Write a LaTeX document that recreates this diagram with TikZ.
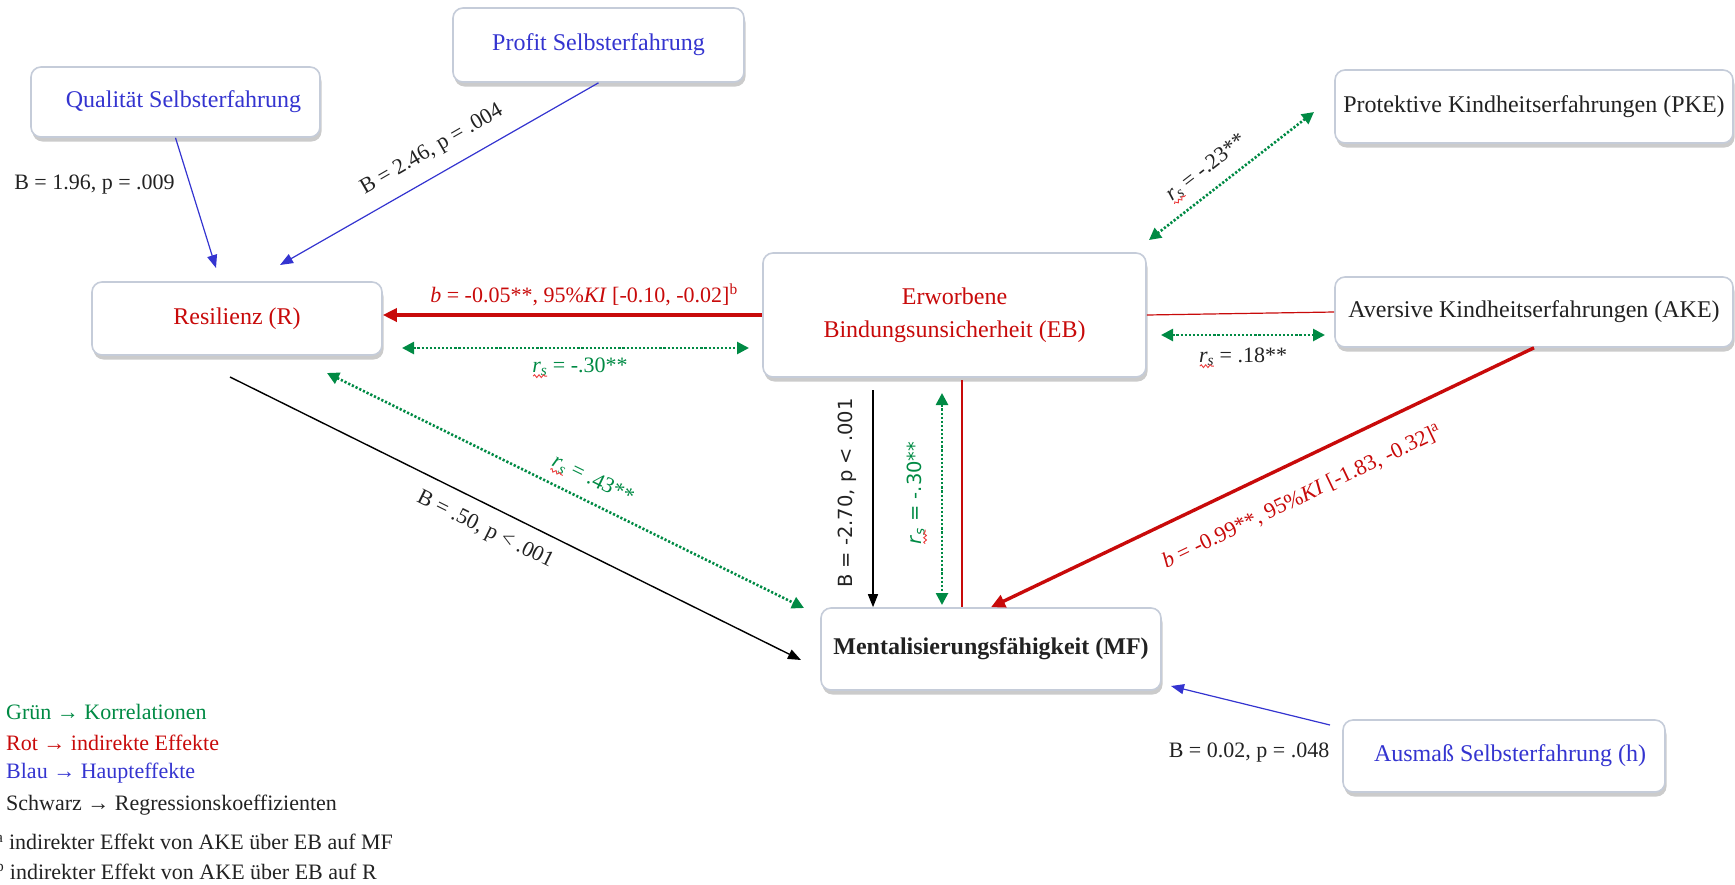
\documentclass[tikz,border=0pt]{standalone}
\usepackage{fontspec}
\setmainfont{Liberation Serif}
\newfontfamily\sansf{DejaVu Sans}
\usetikzlibrary{arrows.meta,shadows,calc,decorations.pathmorphing}
\definecolor{bx}{RGB}{197,204,217}
\definecolor{blu}{RGB}{52,52,208}
\definecolor{rd}{RGB}{200,10,10}
\definecolor{grn}{RGB}{0,138,68}
\definecolor{txt}{RGB}{34,34,34}
\definecolor{sq}{RGB}{235,60,60}
\newcommand\rsym{\textit{r}\textsubscript{\textit{s}}}
\begin{document}
\begin{tikzpicture}[x=1pt,y=-1pt,
  box/.style={draw=bx, line width=1.6pt, rounded corners=10pt, fill=white,
     drop shadow={shadow xshift=1.5pt, shadow yshift=-4.5pt, opacity=.45, fill=black!45},
     inner sep=0pt, font=\fontsize{24}{33}\selectfont},
  lab/.style={font=\fontsize{22}{26}\selectfont, inner sep=0pt, text=txt},
  slab/.style={font=\sansf\fontsize{19.5}{23}\selectfont, inner sep=0pt, rotate=90},
  leg/.style={anchor=west, inner sep=0pt, font=\fontsize{22}{26}\selectfont},
  effarrow/.style={line width=1.2pt, -{Triangle[length=13pt,width=10pt]}},
  corr/.style={grn, line width=2.6pt, dash pattern=on 2.2pt off 1.9pt,
      {Triangle[length=12pt,width=12pt]}-{Triangle[length=12pt,width=12pt]}},
  ind/.style={rd, line width=3.4pt, -{Triangle[length=14pt,width=13pt]}},
  link/.style={rd, line width=1.2pt},
  squig/.style={sq, line width=0.9pt, decorate, decoration={snake, amplitude=1.4pt, segment length=4.5pt}}]
\useasboundingbox (0,0) rectangle (1735,884);

% boxes
\node[box, minimum width=289pt, minimum height=70pt, text=blu] (Q) at (175.5,102) {\hspace*{16pt}Qualität Selbsterfahrung};
\node[box, minimum width=291pt, minimum height=74pt, text=blu] (P) at (598.5,45) {Profit Selbsterfahrung};
\node[box, minimum width=290pt, minimum height=73pt, text=rd] (R) at (237,318.5) {Resilienz (R)};
\node[box, minimum width=383pt, minimum height=124pt, text=rd, align=center] (EB) at (954.5,315) {Erworbene\\Bindungsunsicherheit (EB)};
\node[box, minimum width=398pt, minimum height=73pt, text=txt] (PKE) at (1534,106.5) {Protektive Kindheitserfahrungen (PKE)};
\node[box, minimum width=398pt, minimum height=70pt, text=txt] (AKE) at (1534,312) {Aversive Kindheitserfahrungen (AKE)};
\node[box, minimum width=340pt, minimum height=82pt, text=txt] (MF) at (991,649) {\textbf{Mentalisierungsfähigkeit (MF)}};
\node[box, minimum width=322pt, minimum height=72pt, text=blu] (A) at (1504,756) {\hspace*{12pt}Ausmaß Selbsterfahrung (h)};

% connectors
\coordinate (qR) at (216,268);
\draw[effarrow, blu] (Q.south) -- (qR);
\coordinate (pR) at (280,265);
\draw[effarrow, blu] (P.south) -- (pR);
\draw[ind] (EB.west) -- (R.east |- EB.west);
\coordinate (c1) at (402,348); \coordinate (c2) at (749,348);
\draw[corr] (c1) -- (c2);
\coordinate (rm1) at (230,377); \coordinate (rm2) at (801,660);
\draw[effarrow, black, line width=1.4pt] (rm1) -- (rm2);
\coordinate (c3) at (327,373); \coordinate (c4) at (804,608);
\draw[corr] (c3) -- (c4);
\coordinate (em1) at (873,390);
\draw[effarrow, black, line width=1.4pt] (em1) -- (em1 |- MF.north);
\coordinate (c5) at (942,393); \coordinate (c6) at (942,605);
\draw[corr] (c5) -- (c6);
\coordinate (r1) at (962,380);
\draw[link] (r1) -- (r1 |- MF.north);
\draw[link] (EB.east) -- (AKE.west);
\coordinate (c7) at (1161,335); \coordinate (c8) at (1325,335);
\draw[corr] (c7) -- (c8);
\draw[ind] (AKE.south) -- (MF.north);
\coordinate (c9) at (1314,112); \coordinate (c10) at (1149,240);
\draw[corr] (c9) -- (c10);
\coordinate (a1) at (1330,725); \coordinate (a2) at (1171,686);
\draw[effarrow, blu] (a1) -- (a2);

% labels
\node[lab] (l1) at (94.5,185) {B = 1.96, p = .009};
\node[lab, rotate=30] (l2) at (432,150) {B = 2.46, p = .004};
\node[lab, text=rd] (l3) at (584,295) {\textit{b} = -0.05**, 95\%\textit{KI} [-0.10, -0.02]\textsuperscript{b}};
\node[lab, text=grn] (l4) at (580,367) {\rsym\ = -.30**};
\node[lab, text=grn, rotate=-26] (l5) at (593,480) {\rsym\ = .43**};
\node[lab, rotate=-26.5] (l6) at (485,530) {B = .50, p < .001};
\node[slab, text=txt] (l7) at (847,493) {B = -2.70, p < .001};
\node[slab, text=grn] (l8) at (916,493) {\rsym\ = -.30**};
\node[lab] (l9) at (1243,357) {\rsym\ = .18**};
\node[lab, text=rd, rotate=25.6] (l10) at (1302,497) {\textit{b} = -0.99**, 95\%\textit{KI} [-1.83, -0.32]\textsuperscript{a}};
\node[lab, rotate=37.8] (l11) at (1206,168) {\rsym\ = -.23**};
\node[lab] (l12) at (1249,753) {B = 0.02, p = .048};

% spell-check squiggles under r_s
\foreach \n in {l4,l5,l8,l9,l11}
  \draw[squig] ($(\n.south west)!1pt!(\n.south east)$) -- ($(\n.south west)!15pt!(\n.south east)$);

% legend
\node[leg, text=grn] (g1) at (6,712) {Grün → Korrelationen};
\node[leg, text=rd] (g2) at (6,743) {Rot → indirekte Effekte};
\node[leg, text=blu] (g3) at (6,773) {Blau → Haupteffekte};
\node[leg, text=txt] (g4) at (6,805) {Schwarz → Regressionskoeffizienten};
\node[leg, text=txt] (g5) at (-4,842) {\textsuperscript{a} indirekter Effekt von AKE über EB auf MF};
\node[leg, text=txt] (g6) at (-4,870) {\textsuperscript{b} indirekter Effekt von AKE über EB auf R};
\end{tikzpicture}
\end{document}
